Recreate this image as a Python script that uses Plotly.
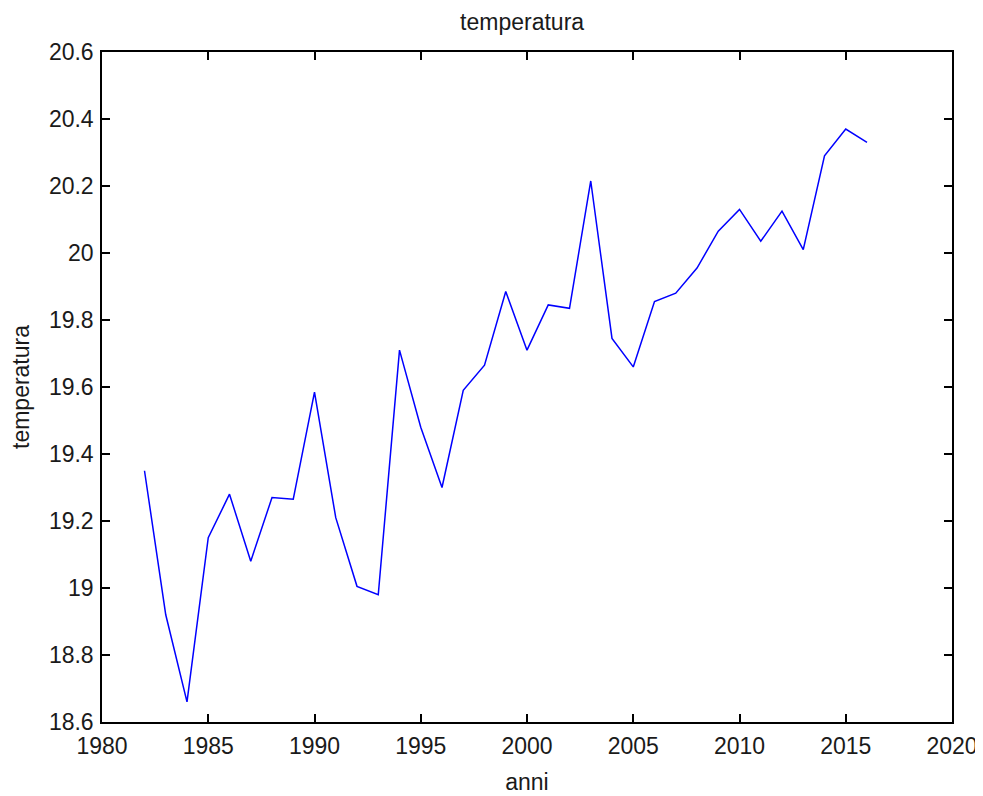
import plotly.graph_objects as go

anni = list(range(1982, 2017))
temperatura = [19.35, 18.92, 18.66, 19.15, 19.28, 19.08, 19.27, 19.265, 19.585, 19.21,
               19.005, 18.98, 19.71, 19.48, 19.30, 19.59, 19.665, 19.885, 19.71, 19.845,
               19.835, 20.215, 19.745, 19.66, 19.855, 19.88, 19.955, 20.065, 20.13, 20.035,
               20.125, 20.01, 20.29, 20.37, 20.33]

FONT = "Liberation Sans"
TXT = "#1a1a1a"

fig = go.Figure(go.Scatter(x=anni, y=temperatura, mode="lines",
                           line=dict(color="#0000ff", width=1.5)))

axis_common = dict(showline=True, linecolor="black", linewidth=1.5, mirror="ticks",
                   ticks="inside", ticklen=8, tickcolor="black", tickwidth=1.5,
                   showgrid=False, zeroline=False,
                   tickfont=dict(family=FONT, size=23, color=TXT))

fig.update_layout(
    width=983, height=796,
    margin=dict(l=94, r=39, t=44, b=82),
    paper_bgcolor="white", plot_bgcolor="white",
    showlegend=False,
    title=dict(text="temperatura", x=0.523, xanchor="center", y=0.982, yanchor="middle",
               font=dict(family=FONT, size=23, color=TXT)),
    xaxis=dict(range=[1980, 2020], dtick=5, tick0=1980, ticklabelstandoff=3,
               title=dict(text="anni", font=dict(family=FONT, size=23, color=TXT), standoff=16),
               **axis_common),
    yaxis=dict(range=[18.6, 20.6], dtick=0.2, tick0=18.6, ticklabelstandoff=2,
               title=dict(text="temperatura", font=dict(family=FONT, size=23, color=TXT), standoff=14),
               **axis_common),
)

fig.write_html("out.html")
